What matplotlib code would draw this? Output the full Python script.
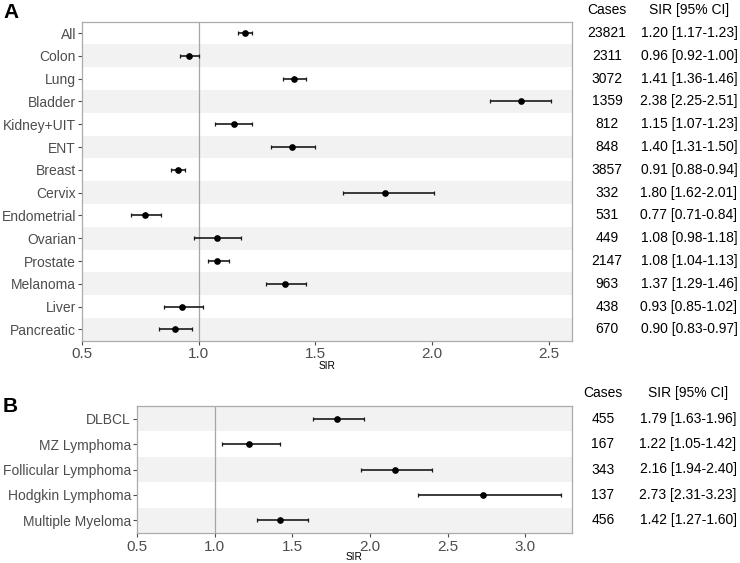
import matplotlib
matplotlib.use("Agg")
import matplotlib.pyplot as plt
import matplotlib.transforms as mtransforms

plt.rcParams['font.family'] = ['Liberation Sans', 'DejaVu Sans']

# panel A: solid tumours
a_sites = ['All', 'Colon', 'Lung', 'Bladder', 'Kidney+UIT', 'ENT', 'Breast',
           'Cervix', 'Endometrial', 'Ovarian', 'Prostate', 'Melanoma',
           'Liver', 'Pancreatic']
a_cases = [23821, 2311, 3072, 1359, 812, 848, 3857, 332, 531, 449, 2147,
           963, 438, 670]
a_sir = [1.20, 0.96, 1.41, 2.38, 1.15, 1.40, 0.91, 1.80, 0.77, 1.08, 1.08,
         1.37, 0.93, 0.90]
a_low = [1.17, 0.92, 1.36, 2.25, 1.07, 1.31, 0.88, 1.62, 0.71, 0.98, 1.04,
         1.29, 0.85, 0.83]
a_high = [1.23, 1.00, 1.46, 2.51, 1.23, 1.50, 0.94, 2.01, 0.84, 1.18, 1.13,
          1.46, 1.02, 0.97]

# panel B: haematological
b_sites = ['DLBCL', 'MZ Lymphoma', 'Follicular Lymphoma', 'Hodgkin Lymphoma',
           'Multiple Myeloma']
b_cases = [455, 167, 343, 137, 456]
b_sir = [1.79, 1.22, 2.16, 2.73, 1.42]
b_low = [1.63, 1.05, 1.94, 2.31, 1.27]
b_high = [1.96, 1.42, 2.40, 3.23, 1.60]

W, H = 740, 563
fig = plt.figure(figsize=(W / 100, H / 100), dpi=100)


def px_axes(left, top, right, bottom):
    return fig.add_axes([left / W, 1 - bottom / H, (right - left) / W,
                         (bottom - top) / H])


def forest(ax, sites, cases, sir, low, high, xlim, xticks, col_x, sir_y):
    n = len(sites)
    ys = list(range(n))
    for i in ys:
        if (n - 1 - i) % 2 == 0:
            ax.axhspan(i - 0.5, i + 0.5, color='#F2F2F2', lw=0, zorder=0)
    ax.axvline(1.0, color='#A6A6A6', lw=0.9, zorder=1)
    xerr = [[s - l for s, l in zip(sir, low)], [h - s for s, h in zip(sir, high)]]
    ax.errorbar(sir, ys, xerr=xerr, fmt='o', color='black', ecolor='#1A1A1A',
                ms=3.8, elinewidth=1.2, capsize=1.6, capthick=0.9, zorder=3)
    ax.set_ylim(n - 0.5, -0.5)
    ax.set_xlim(*xlim)
    ax.set_yticks(ys)
    ax.set_yticklabels(sites, fontsize=10, color='#4D4D4D')
    ax.set_xticks(xticks)
    ax.set_xticklabels([f'{t:.1f}' for t in xticks], fontsize=11, color='#4D4D4D')
    ax.tick_params(length=2.75, width=0.8, color='#4D4D4D')
    ax.tick_params(axis='y', pad=1.5)
    ax.tick_params(axis='x', pad=2)
    for sp in ax.spines.values():
        sp.set_color('#ABABAB')
        sp.set_linewidth(0.9)

    # axis title placed at the reference's pixel row
    pos = ax.get_position()
    fig.text(pos.x0 + pos.width / 2, 1 - sir_y / H, 'SIR', fontsize=7.3,
             ha='center', va='center')

    tr = mtransforms.blended_transform_factory(fig.transFigure, ax.transData)
    cx, sx = col_x
    ax.text(cx / W, -1, 'Cases', transform=tr, ha='center', va='center',
            fontsize=10, clip_on=False)
    ax.text(sx / W, -1, 'SIR [95% CI]', transform=tr, ha='center', va='center',
            fontsize=10, clip_on=False)
    for i in ys:
        ax.text(cx / W, i, str(cases[i]), transform=tr, ha='center',
                va='center', fontsize=10, clip_on=False)
        ax.text(sx / W, i, f'{sir[i]:.2f} [{low[i]:.2f}-{high[i]:.2f}]',
                transform=tr, ha='center', va='center', fontsize=10,
                clip_on=False)


ax_a = px_axes(82, 21.6, 572, 340.8)
forest(ax_a, a_sites, a_cases, a_sir, a_low, a_high, (0.5, 2.6),
       [0.5, 1.0, 1.5, 2.0, 2.5], (607, 689), 366)

ax_b = px_axes(137, 406, 572, 533)
forest(ax_b, b_sites, b_cases, b_sir, b_low, b_high, (0.5, 3.3),
       [0.5, 1.0, 1.5, 2.0, 2.5, 3.0], (603, 688), 557)

fig.text(3 / W, 1 - 12 / H, 'A', fontsize=15, fontweight='bold', va='center')
fig.text(3 / W, 1 - 407 / H, 'B', fontsize=15, fontweight='bold', va='center')

fig.savefig('out.png', dpi=100)
